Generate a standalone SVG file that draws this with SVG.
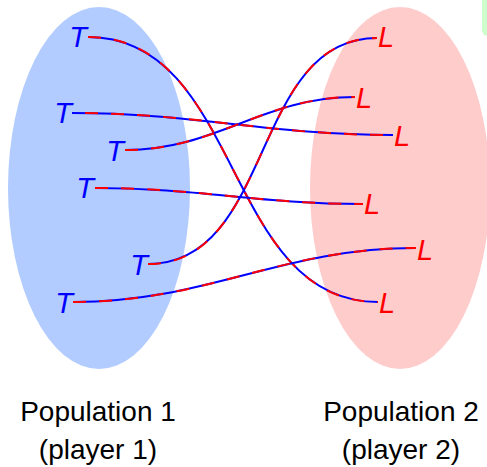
<svg xmlns="http://www.w3.org/2000/svg" width="487" height="467" viewBox="0 0 487 467">
<style>
.t{font-family:"Liberation Sans",Arial,sans-serif;font-style:italic;font-size:29px;fill:#0000ff}
.l{font-family:"Liberation Sans",Arial,sans-serif;font-style:italic;font-size:29px;fill:#ff0000}
.cap{font-family:"Liberation Sans",Arial,sans-serif;font-size:28px;fill:#000;text-anchor:middle}
.b{fill:none;stroke:#0000ff;stroke-width:2}
.r{fill:none;stroke:#ff0000;stroke-width:2;stroke-dasharray:13 13}
</style>
<rect x="482" y="-10" width="20" height="46" rx="6" fill="#ccffcc"/>
<g id="pop1">
<ellipse cx="99" cy="188" rx="91" ry="181" fill="#b2ccff"/>
<text class="cap" x="98" y="421">Population 1</text>
<text class="cap" x="98" y="459">(player 1)</text>
</g>
<g id="pop2">
<ellipse cx="400" cy="188" rx="90" ry="181" fill="#ffcccc"/>
<text class="cap" x="401" y="421">Population 2</text>
<text class="cap" x="401" y="459">(player 2)</text>
</g>
<g id="T1"><text class="t" x="87" y="47" text-anchor="end">T</text></g>
<g id="T2"><text class="t" x="72" y="123" text-anchor="end">T</text></g>
<g id="T3"><text class="t" x="124" y="161" text-anchor="end">T</text></g>
<g id="T4"><text class="t" x="94" y="198" text-anchor="end">T</text></g>
<g id="T5"><text class="t" x="148" y="275" text-anchor="end">T</text></g>
<g id="T6"><text class="t" x="73" y="313" text-anchor="end">T</text></g>
<g id="L1"><text class="l" x="378" y="47">L</text></g>
<g id="L2"><text class="l" x="356" y="108">L</text></g>
<g id="L3"><text class="l" x="394" y="146">L</text></g>
<g id="L4"><text class="l" x="364" y="214">L</text></g>
<g id="L5"><text class="l" x="417" y="260">L</text></g>
<g id="L6"><text class="l" x="379" y="313">L</text></g>
<g id="connectors">
<path id="c1" class="b" d="M88,37 C242,37 224,302 378,302"/>
<path class="r" d="M88,37 C242,37 224,302 378,302"/>
<path id="c2" class="b" d="M72,113 C198,113 267,135 393,135"/>
<path class="r" d="M72,113 C198,113 267,135 393,135" stroke-dashoffset="13"/>
<path id="c3" class="b" d="M125,150 C217,150 263,97 355,97"/>
<path class="r" d="M125,150 C217,150 263,97 355,97"/>
<path id="c4" class="b" d="M95,188 C200,188 258,204 363,204"/>
<path class="r" d="M95,188 C200,188 258,204 363,204"/>
<path id="c5" class="b" d="M148,264 C274,264 251,38 377,38"/>
<path class="r" d="M148,264 C274,264 251,38 377,38"/>
<path id="c6" class="b" d="M73,302 C209,302 280,248 416,248"/>
<path class="r" d="M73,302 C209,302 280,248 416,248"/>
</g>
</svg>
